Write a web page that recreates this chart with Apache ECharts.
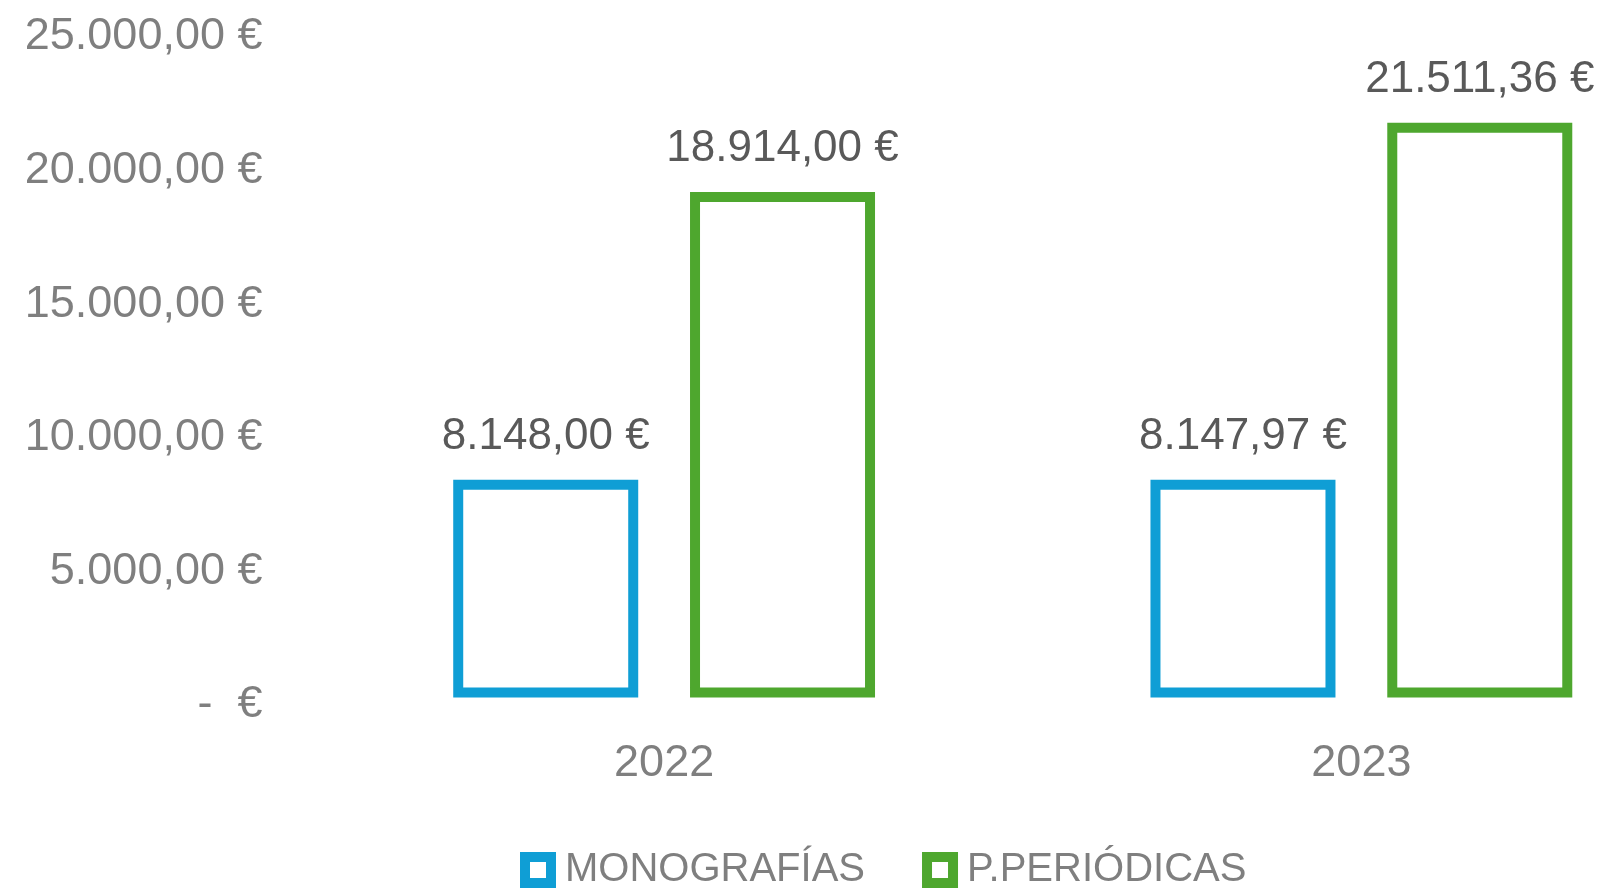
<!DOCTYPE html>
<html>
<head>
<meta charset="utf-8">
<script src="https://cdn.jsdelivr.net/npm/echarts@6/dist/echarts.min.js"></script>
<style>
  html, body { margin: 0; padding: 0; background: #fff; overflow: hidden; }
  /* the original plot runs past the right edge of the picture */
  #mainChart { width: 1710px; height: 896px; }
</style>
</head>
<body>
<div id="mainChart"></div>
<script>
var years = ['2022', '2023'];
var monografias = [8148.00, 8147.97];
var periodicas = [18914.00, 21511.36];
var seriesNames = ['MONOGRAFÍAS', 'P.PERIÓDICAS'];
var yTicks = [0, 5000, 10000, 15000, 20000, 25000];

// 12345.6 -> "12.345,60 €"
function euro(v) {
  if (v === 0) {
    return '-  €';
  }
  var parts = v.toFixed(2).split('.');
  var ent = parts[0].replace(/\B(?=(\d{3})+(?!\d))/g, '.');
  return ent + ',' + parts[1] + ' €';
}

function chartInit() {
  var myChart = echarts.init(document.getElementById('mainChart'));
  var font = 'Liberation Sans';

  var option = {
    animation: false,
    textStyle: { fontFamily: font },
    grid: {
      left: 315.5,
      right: 0,
      top: 29.5,
      bottom: 198.5
    },
    legend: {
      data: seriesNames,
      left: 515,
      top: 845,
      icon: 'rect',
      itemWidth: 26,
      itemHeight: 26,
      itemGap: 57,
      itemStyle: { borderWidth: 10 },
      textStyle: {
        fontFamily: font,
        fontSize: 40,
        color: '#7f7f7f',
        padding: [0, 0, 0, 9]
      }
    },
    xAxis: {
      type: 'category',
      data: years,
      axisLine: { show: false },
      axisTick: { show: false },
      axisLabel: {
        fontFamily: font,
        fontSize: 45,
        color: '#7f7f7f',
        margin: 44
      }
    },
    yAxis: {
      type: 'value',
      min: yTicks[0],
      max: yTicks[yTicks.length - 1],
      interval: 5000,
      splitLine: { show: false },
      axisLine: { show: false },
      axisTick: { show: false },
      axisLabel: {
        margin: 53,
        formatter: function (v) { return '{t|' + euro(v) + '}'; },
        rich: {
          t: {
            fontFamily: font,
            fontSize: 45,
            color: '#7f7f7f',
            padding: [15, 0, 0, 0]
          }
        }
      }
    },
    series: [
      {
        name: seriesNames[0],
        type: 'bar',
        data: monografias,
        barWidth: 185,
        barGap: '28%',
        itemStyle: { color: '#ffffff', borderColor: '#0F9ED5', borderWidth: 10 },
        label: {
          show: true,
          position: 'top',
          distance: 21,
          fontFamily: font,
          fontSize: 44,
          color: '#595959',
          formatter: function (p) { return euro(p.value); }
        }
      },
      {
        name: seriesNames[1],
        type: 'bar',
        data: periodicas,
        barWidth: 185,
        barGap: '28%',
        itemStyle: { color: '#ffffff', borderColor: '#4EA72E', borderWidth: 10 },
        label: {
          show: true,
          position: 'top',
          distance: 21,
          fontFamily: font,
          fontSize: 44,
          color: '#595959',
          formatter: function (p) { return euro(p.value); }
        }
      }
    ]
  };
  myChart.setOption(option);
}

chartInit();
</script>
</body>
</html>
